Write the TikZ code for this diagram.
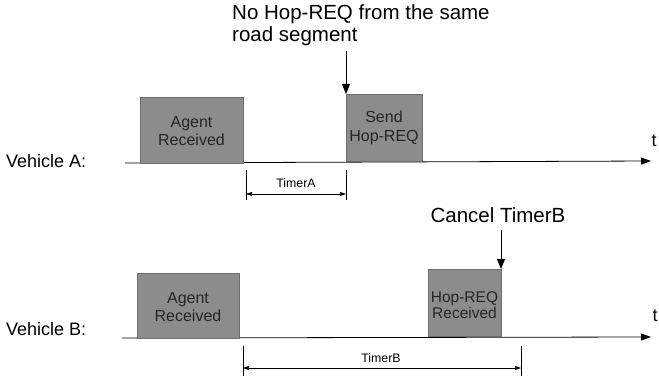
\documentclass[tikz,border=0pt]{standalone}
\usepackage{fontspec}
\setmainfont{Liberation Sans}
\usetikzlibrary{arrows.meta}
\definecolor{boxfill}{RGB}{140,140,140}
\definecolor{boxline}{RGB}{110,110,110}
\begin{document}
\begin{tikzpicture}[x=1pt,y=-1pt,
  evbox/.style={draw=boxline,fill=boxfill,line width=0.8pt},
  boxtext/.style={font=\fontsize{16}{18}\selectfont,align=center,text=black!85,inner sep=0pt},
  axis/.style={line width=0.8pt,-{Triangle[length=10pt,width=7pt]}},
  pointer/.style={line width=0.8pt,-{Triangle[length=10pt,width=8pt]}},
  tick/.style={line width=0.6pt},
  timer/.style={line width=0.6pt,{Triangle[length=6pt,width=4pt]}-{Triangle[length=6pt,width=4pt]}},
  bigtext/.style={font=\fontsize{20.5}{22.5}\selectfont},
  labtext/.style={font=\fontsize{18}{20}\selectfont},
  smalltext/.style={font=\fontsize{12.3}{14}\selectfont}]
\useasboundingbox (0,0) rectangle (659,382);
% Vehicle A
\node[labtext,anchor=west,inner sep=0pt] (va) at (6,161) {Vehicle A:};
\coordinate (aS) at (125,163);
\coordinate (aE) at (651,161);
\draw[axis] (aS) -- (aE);
\node[labtext] (ta) at (654,141) {t};
\draw[evbox] (140,97) rectangle (243,163);
\node[boxtext] (a1) at (191.5,131) {Agent\\Received};
\draw[evbox] (346,94) rectangle (422,161);
\coordinate (a2top) at (346,94);
\node[boxtext,font=\fontsize{16}{19}\selectfont] (a2) at (384,128) {Send\\Hop-REQ};
\node[bigtext,anchor=north west,align=left,inner sep=0pt] (noreq) at (232,4) {No Hop-REQ from the same\\road segment};
\coordinate (noreqA) at (346,51);
\draw[pointer] (noreqA) -- (a2top);
% TimerA
\coordinate (taL1) at (246,170); \coordinate (taL2) at (246,200);
\coordinate (taR1) at (346,170); \coordinate (taR2) at (346,200);
\draw[tick] (taL1) -- (taL2);
\draw[tick] (taR1) -- (taR2);
\coordinate (taA) at (246,194); \coordinate (taB) at (346,194);
\draw[timer] (taA) -- (taB);
\node[smalltext] (timerA) at (296,183) {TimerA};
% Vehicle B
\node[labtext,anchor=west,inner sep=0pt] (vb) at (6,329) {Vehicle B:};
\coordinate (bS) at (122,338);
\coordinate (bE) at (651,337);
\draw[axis] (bS) -- (bE);
\node[labtext] (tb) at (655,316) {t};
\draw[evbox] (137,273) rectangle (239,338);
\node[boxtext] (b1) at (188,307) {Agent\\Received};
\draw[evbox] (428,269) rectangle (501,336);
\coordinate (b2top) at (501,269);
\node[boxtext,font=\fontsize{15.5}{16.5}\selectfont] (b2) at (464.5,305) {Hop-REQ\\Received};
\node[bigtext] (cancel) at (498,215) {Cancel TimerB};
\coordinate (cancelA) at (501,230);
\draw[pointer] (cancelA) -- (b2top);
% TimerB
\coordinate (tbL1) at (243,346); \coordinate (tbL2) at (243,376);
\coordinate (tbR1) at (521,346); \coordinate (tbR2) at (521,376);
\draw[tick] (tbL1) -- (tbL2);
\draw[tick] (tbR1) -- (tbR2);
\coordinate (tbA) at (243,368); \coordinate (tbB) at (521,368);
\draw[timer] (tbA) -- (tbB);
\node[smalltext] (timerB) at (381,358) {TimerB};
\end{tikzpicture}
\end{document}
